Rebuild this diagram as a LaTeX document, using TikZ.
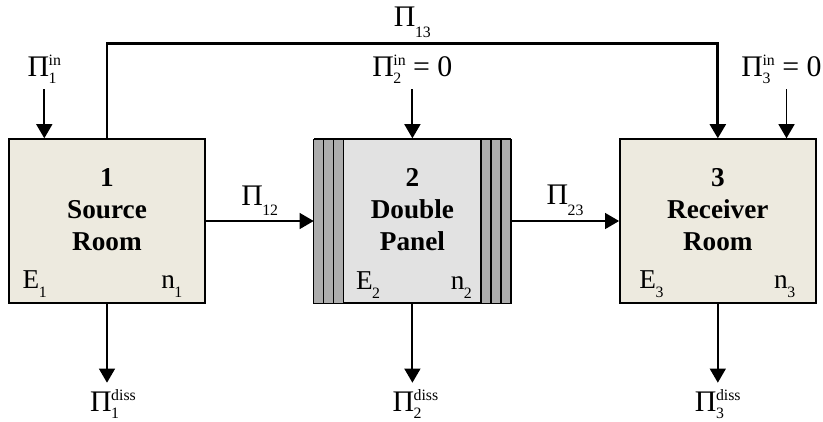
\documentclass[tikz,border=0pt]{standalone}
\usepackage{fontspec}
\setmainfont{Liberation Serif}
\usepackage{xcolor}
\usetikzlibrary{positioning,arrows.meta}
\definecolor{roomfill}{RGB}{237,234,223}
\definecolor{panelfill}{RGB}{226,226,226}
\definecolor{stripfill}{RGB}{172,172,172}
\newcommand{\smlfont}{\fontsize{9}{9}\selectfont}
\newcommand{\Psub}[1]{Π\kern-0.3pt\raisebox{-6pt}{\smlfont #1}}
\newcommand{\Pboth}[2]{Π\kern-0.3pt\rlap{\raisebox{-4pt}{\smlfont #1}}\raisebox{6.5pt}{\smlfont #2}}
\newcommand{\Esub}[2]{#1\kern-0.3pt\raisebox{-5pt}{\smlfont #2}}

\begin{document}
\begin{tikzpicture}[room/.style={draw,line width=0.8pt,minimum width=3.92cm,minimum height=3.28cm},
                    title/.style={align=center,font=\fontsize{15.5}{18.1}\selectfont\bfseries},
                    sym/.style={font=\fontsize{15.5}{15.5}\selectfont,inner sep=0pt},
                    pw/.style={font=\fontsize{17}{17}\selectfont,inner sep=1pt},
                    flow/.style={->,line width=1.1pt},
                    >={Triangle[length=8pt,width=9pt]},node distance=2.16cm]
  \useasboundingbox (0,0) rectangle (16.46,-8.42);
  \node[room,fill=roomfill] (r1) at (2.14,-4.42) {};
  \node[room,fill=panelfill,right=of r1] (r2) {};
  \node[room,fill=roomfill,right=of r2] (r3) {};
  % panel strips
  \foreach \i in {0,1,2} {
    \draw[line width=0.8pt,fill=stripfill] ([xshift=\i*0.2cm]r2.south west) rectangle ++(0.2,3.28);
    \draw[line width=0.8pt,fill=stripfill] ([xshift=-\i*0.2cm]r2.south east) rectangle ++(-0.2,3.28);
  }
  \node[title] (t1) at ([yshift=0.23cm]r1.center) {1\\Source\\Room};
  \node[title] (t2) at ([yshift=0.23cm]r2.center) {2\\Double\\Panel};
  \node[title] (t3) at ([yshift=0.23cm]r3.center) {3\\Receiver\\Room};
  \node[sym,anchor=base west] (e1) at ([xshift=0.28cm,yshift=0.31cm]r1.south west) {\Esub{E}{1}};
  \node[sym,anchor=base east] (n1) at ([xshift=-0.46cm,yshift=0.31cm]r1.south east) {\Esub{n}{1}};
  \node[sym,anchor=base west] (e2) at ([xshift=0.84cm,yshift=0.28cm]r2.south west) {\Esub{E}{2}};
  \node[sym,anchor=base east] (n2) at ([xshift=-0.78cm,yshift=0.28cm]r2.south east) {\Esub{n}{2}};
  \node[sym,anchor=base west] (e3) at ([xshift=0.4cm,yshift=0.3cm]r3.south west) {\Esub{E}{3}};
  \node[sym,anchor=base east] (n3) at ([xshift=-0.42cm,yshift=0.3cm]r3.south east) {\Esub{n}{3}};
  % transmitted power
  \draw[flow] (r1) -- node[pw,above=1.5pt] (l12) {\Psub{12}} (r2);
  \draw[flow] (r2) -- node[pw,above=1.5pt] (l23) {\Psub{23}} (r3);
  \draw[flow,line width=1.6pt] (r1.north) -- ++(0,1.9) -| node[pw,pos=0.25,above=1.5pt] (l13) {\Psub{13}} (r3.north);
  % input power
  \coordinate (a1) at ([xshift=0.72cm,yshift=0.98cm]r1.north west);
  \coordinate (a2) at ([yshift=0.98cm]r2.north);
  \coordinate (a3) at ([xshift=-0.6cm,yshift=0.98cm]r3.north east);
  \node[pw,anchor=south,yshift=2pt] (in1) at (a1) {\Pboth{1}{in}};
  \node[pw,anchor=south,yshift=2pt] (in2) at (a2) {\Pboth{2}{in} = 0};
  \node[pw,anchor=south,yshift=2pt,xshift=-0.1cm] (in3) at (a3) {\Pboth{3}{in} = 0};
  \draw[flow] (a1) -- (a1 |- r1.north);
  \draw[flow] (a2) -- (r2.north);
  \draw[flow] (a3) -- (a3 |- r3.north);
  % dissipated power
  \coordinate (d1) at ([yshift=-1.58cm]r1.south);
  \coordinate (d2) at ([yshift=-1.58cm]r2.south);
  \coordinate (d3) at ([yshift=-1.58cm]r3.south);
  \draw[flow] (r1.south) -- (d1);
  \draw[flow] (r2.south) -- (d2);
  \draw[flow] (r3.south) -- (d3);
  \node[pw,anchor=north,xshift=0.12cm,yshift=-2.5pt] (o1) at (d1) {\Pboth{1}{diss}};
  \node[pw,anchor=north,xshift=0.06cm,yshift=-2.5pt] (o2) at (d2) {\Pboth{2}{diss}};
  \node[pw,anchor=north,yshift=-2.5pt] (o3) at (d3) {\Pboth{3}{diss}};
\end{tikzpicture}
\end{document}
